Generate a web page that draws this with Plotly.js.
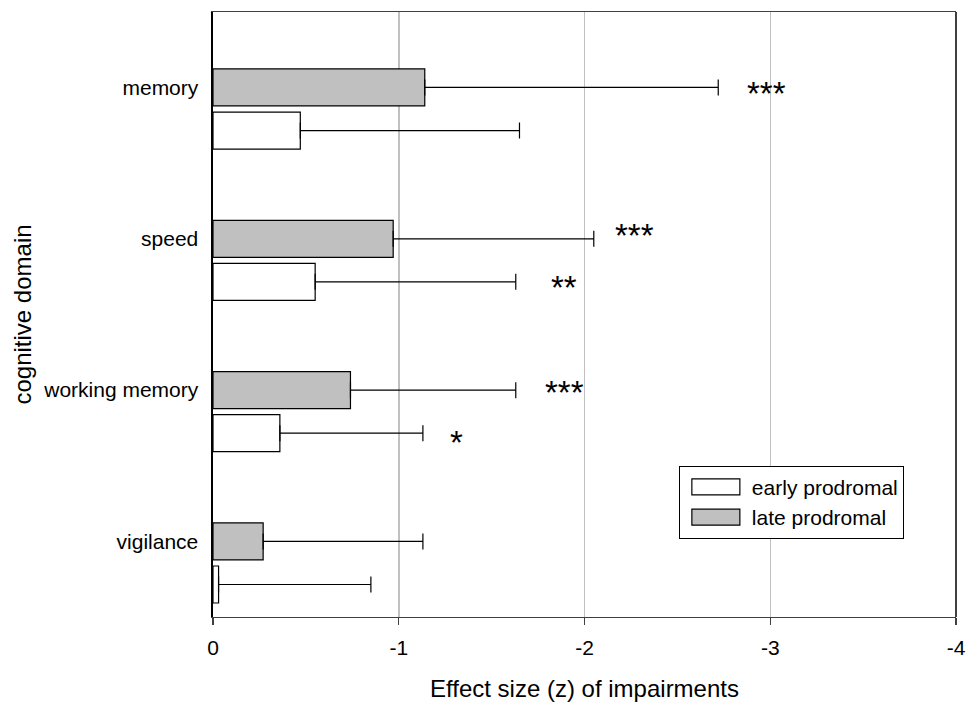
<!DOCTYPE html>
<html>
<head>
<meta charset="utf-8">
<script src="https://cdn.plot.ly/plotly-3.0.1.min.js"></script>
<style>html,body{margin:0;padding:0;background:#fff;}#chart{width:966px;height:702px;}</style>
</head>
<body>
<div id="chart"></div>
<script>
// Data
const domains = ["vigilance", "working memory", "speed", "memory"];
const lateMean = [-0.27, -0.74, -0.97, -1.14];
const lateSD = [0.86, 0.89, 1.08, 1.58];
const earlyMean = [-0.03, -0.36, -0.55, -0.47];
const earlySD = [0.82, 0.77, 1.08, 1.18];
// significance markers
const starDomain = [3, 2, 2, 1, 1];
const starGroup = ["late", "late", "early", "late", "early"];
const starText = ["***", "***", "**", "***", "*"];
const starX = [-2.98, -2.27, -1.89, -1.89, -1.31];

const FONT = "Liberation Sans, Arial, Helvetica, sans-serif";
const starShift = [-6, 3, -6, -2, -9];
const idx = domains.map((d, i) => i);
const barW = 0.2445;
const lateOff = 0.02;
const earlyOff = -0.02 - barW;
const lateCenter = lateOff + barW / 2;
const earlyCenter = earlyOff + barW / 2;

const errStyle = (sd) => ({
  type: "data", symmetric: false,
  array: sd.map(() => 0), arrayminus: sd,
  color: "#000", thickness: 1.2, width: 8
});

const traces = [
  {
    type: "bar", orientation: "h", name: "early prodromal",
    x: earlyMean, y: idx, width: barW, offset: earlyOff,
    marker: {color: "#ffffff", line: {color: "#000", width: 1.2}},
    error_x: errStyle(earlySD), hoverinfo: "x"
  },
  {
    type: "bar", orientation: "h", name: "late prodromal",
    x: lateMean, y: idx, width: barW, offset: lateOff,
    marker: {color: "#c0c0c0", line: {color: "#000", width: 1.2}},
    error_x: errStyle(lateSD), hoverinfo: "x"
  }
];

const annotations = starText.map((t, i) => ({
  x: starX[i], y: starDomain[i] + (starGroup[i] === "late" ? lateCenter : earlyCenter),
  xref: "x", yref: "y", text: t, showarrow: false, yshift: starShift[i],
  font: {family: FONT, size: 33, color: "#000"}, xanchor: "center", yanchor: "middle"
}));

const layout = {
  width: 966, height: 702,
  margin: {l: 213, r: 10, t: 12, b: 85},
  paper_bgcolor: "#fff", plot_bgcolor: "#fff",
  font: {family: FONT, size: 21, color: "#000"},
  barmode: "overlay",
  showlegend: true,
  legend: {
    x: 0.627, y: 0.25, xanchor: "left", yanchor: "top",
    bgcolor: "#fff", bordercolor: "#000", borderwidth: 1,
    font: {family: FONT, size: 21, color: "#000"},
    traceorder: "normal", itemwidth: 62
  },
  xaxis: {
    range: [0, -4], tickvals: [0, -1, -2, -3, -4], ticktext: ["0", "-1", "-2", "-3", "-4"],
    showgrid: true, gridcolor: "#c0c0c0", gridwidth: 1.5,
    zeroline: false, showline: true, linecolor: "#404040", linewidth: 1.2, mirror: true,
    ticks: "outside", ticklen: 7, tickcolor: "#404040", tickwidth: 1.2, ticklabelstandoff: 5,
    tickfont: {family: FONT, size: 21, color: "#000"},
    title: {text: "Effect size (z) of impairments", font: {family: FONT, size: 24, color: "#000"}, standoff: 26},
    fixedrange: true
  },
  yaxis: {
    range: [-0.357, 3.641],
    tickvals: idx.map(i => i + lateCenter), ticktext: domains,
    showgrid: false, zeroline: false, showline: true, linecolor: "#000", linewidth: 2.5,
    ticks: "", ticklabelstandoff: 8,
    tickfont: {family: FONT, size: 21, color: "#000"},
    title: {text: "cognitive domain", font: {family: FONT, size: 24, color: "#000"}, standoff: 5},
    fixedrange: true
  },
  shapes: [
    {type: "line", xref: "paper", yref: "paper", x0: 1, x1: 1, y0: 0, y1: 1,
     line: {color: "#000", width: 1.5}}
  ],
  annotations: annotations
};

Plotly.newPlot("chart", traces, layout, {displayModeBar: false, staticPlot: true}).then(() => {
  // widen the legend swatches to long rectangles like the reference
  document.querySelectorAll("#chart .legend .legendpoints path").forEach(p => {
    p.setAttribute("d", "M24,8H-24V-8H24Z");
  });
});
</script>
</body>
</html>
